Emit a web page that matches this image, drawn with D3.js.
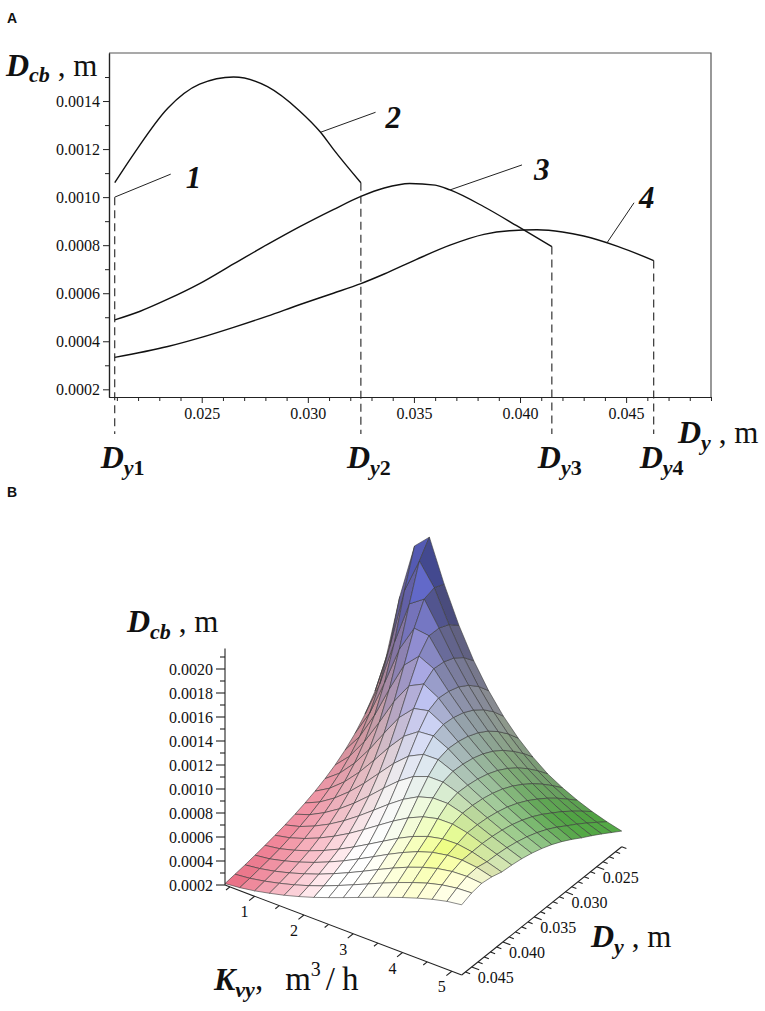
<!DOCTYPE html>
<html>
<head>
<meta charset="utf-8">
<script src="https://cdn.jsdelivr.net/npm/d3@7"></script>
<style>
  body { margin: 0; background: #fff; }
  svg { display: block; }
  text { font-family: "Liberation Serif", "Times New Roman", serif; fill: #111; }
  .tag { font-family: "Liberation Sans", Arial, sans-serif; font-weight: bold; font-size: 14px; }
  .tick-label { font-family: "Liberation Serif", "Times New Roman", serif; font-size: 16px; }
</style>
</head>
<body>
<svg id="chart" width="765" height="1011"></svg>
<script>
// ---------------- panel A data ----------------
var curve2Dy  = [0.0209, 0.0218, 0.0234, 0.0249, 0.0265, 0.0281, 0.0296, 0.0306, 0.0312, 0.0325];
var curve2Dcb = [0.00106, 0.00118, 0.00137, 0.00147, 0.00150, 0.00146, 0.00136, 0.00127, 0.00120, 0.00106];

var curve3Dy  = [0.0209, 0.0221, 0.0234, 0.0249, 0.0265, 0.0281, 0.0296, 0.0312, 0.0325, 0.0336, 0.0348, 0.0360, 0.0367, 0.0383, 0.0399, 0.0415];
var curve3Dcb = [0.000489, 0.000525, 0.000575, 0.000640, 0.000722, 0.000803, 0.000876, 0.000948, 0.001003, 0.001038, 0.001057, 0.00105, 0.001030, 0.000960, 0.000878, 0.000794];

var curve4Dy  = [0.0209, 0.0234, 0.0249, 0.0265, 0.0281, 0.0296, 0.0312, 0.0325, 0.0336, 0.0351, 0.0367, 0.0383, 0.0395, 0.0408, 0.0420, 0.0430, 0.0446, 0.0463];
var curve4Dcb = [0.000333, 0.000378, 0.000414, 0.000458, 0.000505, 0.000552, 0.000600, 0.000640, 0.000680, 0.000740, 0.000800, 0.000845, 0.000860, 0.000864, 0.000855, 0.000838, 0.000795, 0.000736];

// limits Dy1..Dy4 and the value where each dashed line starts
var dyLimits   = [0.0209, 0.0325, 0.0415, 0.0463];
var dyLimitTop = [0.0010, 0.00106, 0.000794, 0.000736];
var dyLimitSub = ["1", "2", "3", "4"];

// where the numbered leader lines touch the curves
var curveTags   = ["1", "2", "3", "4"];
var curveTagDy  = [0.0209, 0.0306, 0.0367, 0.0441];
var curveTagDcb = [0.00100, 0.00127, 0.001030, 0.00081];

var yMajorA = [0.0002, 0.0004, 0.0006, 0.0008, 0.0010, 0.0012, 0.0014];
var yMinorA = [0.0003, 0.0005, 0.0007, 0.0009, 0.0011, 0.0013, 0.0015];
var xMajorA = [0.025, 0.030, 0.035, 0.040, 0.045];
var xMinorA = [0.021, 0.022, 0.023, 0.024, 0.026, 0.027, 0.028, 0.029, 0.031, 0.032, 0.033, 0.034,
               0.036, 0.037, 0.038, 0.039, 0.041, 0.042, 0.043, 0.044, 0.046, 0.047, 0.048, 0.049];

// ---------------- panel B data ----------------
var kGrid  = [0.4, 0.7, 1.0, 1.3, 1.6, 1.9, 2.2, 2.5, 2.8, 3.1, 3.4, 3.7, 4.0, 4.3, 4.6, 4.9, 5.2];
var dyGrid = [0.0210, 0.0226, 0.0242, 0.0258, 0.0274, 0.0290, 0.0306, 0.0322, 0.0338,
              0.0354, 0.0370, 0.0386, 0.0402, 0.0418, 0.0434, 0.0450, 0.0466];
// one row per Kvy, one column per Dy
var dcbGrid = [
  [0.000987, 0.000813, 0.000688, 0.000594, 0.000522, 0.000464, 0.000418, 0.000380, 0.000349, 0.000322, 0.000300, 0.000280, 0.000263, 0.000248, 0.000234, 0.000223, 0.000212],
  [0.001581, 0.001232, 0.000987, 0.000812, 0.000683, 0.000586, 0.000511, 0.000452, 0.000404, 0.000365, 0.000333, 0.000306, 0.000282, 0.000264, 0.000250, 0.000236, 0.000225],
  [0.002050, 0.001747, 0.001385, 0.001111, 0.000907, 0.000756, 0.000641, 0.000553, 0.000484, 0.000429, 0.000384, 0.000347, 0.000316, 0.000294, 0.000275, 0.000259, 0.000245],
  [0.002170, 0.002038, 0.001748, 0.001438, 0.001173, 0.000964, 0.000803, 0.000680, 0.000584, 0.000508, 0.000447, 0.000398, 0.000358, 0.000331, 0.000308, 0.000288, 0.000272],
  [0.001825, 0.001863, 0.001835, 0.001659, 0.001419, 0.001185, 0.000986, 0.000827, 0.000701, 0.000602, 0.000523, 0.000460, 0.000408, 0.000375, 0.000347, 0.000322, 0.000302],
  [0.001528, 0.001602, 0.001640, 0.001643, 0.001540, 0.001359, 0.001162, 0.000982, 0.000831, 0.000708, 0.000610, 0.000530, 0.000466, 0.000426, 0.000391, 0.000362, 0.000338],
  [0.001281, 0.001374, 0.001437, 0.001472, 0.001482, 0.001421, 0.001284, 0.001119, 0.000960, 0.000821, 0.000704, 0.000609, 0.000531, 0.000482, 0.000442, 0.000407, 0.000378],
  [0.001079, 0.001180, 0.001257, 0.001310, 0.001340, 0.001351, 0.001312, 0.001205, 0.001067, 0.000927, 0.000800, 0.000692, 0.000601, 0.000545, 0.000497, 0.000457, 0.000423],
  [0.000913, 0.001017, 0.001100, 0.001164, 0.001209, 0.001235, 0.001244, 0.001216, 0.001129, 0.001011, 0.000888, 0.000774, 0.000673, 0.000610, 0.000556, 0.000510, 0.000470],
  [0.000777, 0.000879, 0.000965, 0.001036, 0.001089, 0.001126, 0.001148, 0.001156, 0.001132, 0.001058, 0.000956, 0.000847, 0.000744, 0.000677, 0.000617, 0.000564, 0.000518],
  [0.000665, 0.000763, 0.000849, 0.000922, 0.000981, 0.001026, 0.001056, 0.001074, 0.001081, 0.001059, 0.000993, 0.000903, 0.000806, 0.000739, 0.000676, 0.000618, 0.000566],
  [0.000572, 0.000665, 0.000749, 0.000823, 0.000885, 0.000935, 0.000972, 0.000997, 0.001012, 0.001017, 0.000994, 0.000934, 0.000853, 0.000793, 0.000730, 0.000669, 0.000613],
  [0.000503, 0.000588, 0.000667, 0.000738, 0.000799, 0.000852, 0.000894, 0.000925, 0.000946, 0.000958, 0.000960, 0.000936, 0.000880, 0.000834, 0.000776, 0.000716, 0.000658],
  [0.000446, 0.000523, 0.000597, 0.000664, 0.000723, 0.000777, 0.000822, 0.000858, 0.000883, 0.000901, 0.000910, 0.000910, 0.000884, 0.000857, 0.000813, 0.000758, 0.000700],
  [0.000399, 0.000469, 0.000536, 0.000599, 0.000655, 0.000710, 0.000757, 0.000795, 0.000825, 0.000846, 0.000860, 0.000867, 0.000865, 0.000863, 0.000835, 0.000790, 0.000737],
  [0.000361, 0.000423, 0.000484, 0.000542, 0.000595, 0.000650, 0.000698, 0.000738, 0.000770, 0.000795, 0.000813, 0.000824, 0.000829, 0.000849, 0.000841, 0.000810, 0.000767],
  [0.000330, 0.000385, 0.000440, 0.000492, 0.000541, 0.000595, 0.000643, 0.000685, 0.000719, 0.000747, 0.000768, 0.000782, 0.000791, 0.000817, 0.000830, 0.000817, 0.000785]
];

var zMajorB = [0.0002, 0.0004, 0.0006, 0.0008, 0.0010, 0.0012, 0.0014, 0.0016, 0.0018, 0.0020];
var zMinorB = [0.0003, 0.0005, 0.0007, 0.0009, 0.0011, 0.0013, 0.0015, 0.0017, 0.0019, 0.0021];
var kMajorB = [1, 2, 3, 4, 5];
var kMinorB = [0.5, 1.5, 2.5, 3.5, 4.5];
var dyMajorB = [0.025, 0.030, 0.035, 0.040, 0.045];
var dyMinorB = [0.021, 0.022, 0.023, 0.024, 0.026, 0.027, 0.028, 0.029, 0.031, 0.032, 0.033, 0.034,
                0.036, 0.037, 0.038, 0.039, 0.041, 0.042, 0.043, 0.044, 0.046];

var svg = d3.select("#chart");
var serif = "Liberation Serif, Times New Roman, serif";

// text made of pieces: [string, size, bold, italic, dy, dx]
function richText(g, x, y, parts) {
  var t = g.append("text").attr("x", x).attr("y", y).attr("font-family", serif);
  parts.forEach(function(p) {
    t.append("tspan")
      .attr("font-size", p[1])
      .attr("font-weight", p[2] ? "bold" : "normal")
      .attr("font-style", p[3] ? "italic" : "normal")
      .attr("dy", p[4] || 0)
      .attr("dx", p[5] || 0)
      .text(p[0]);
  });
  return t;
}

// =============== panel A ===============
var gA = svg.append("g");
var xA = d3.scaleLinear().domain([0.02063, 0.0490]).range([109, 711]);
var yA = d3.scaleLinear().domain([0.000168, 0.0016]).range([397, 53]);

gA.append("text").attr("class", "tag").attr("x", 7).attr("y", 23).text("A");

// frame (top and right)
gA.append("path")
  .attr("d", "M" + xA.range()[0] + "," + yA.range()[1] + "H" + xA.range()[1] + "V" + yA.range()[0])
  .attr("fill", "none").attr("stroke", "#555").attr("stroke-width", 1.2);

function plainAxis(sel) {
  sel.attr("font-family", serif).attr("font-size", 16);
  sel.select(".domain").attr("stroke", "#222").attr("stroke-width", 1.2);
  sel.selectAll(".tick line").attr("stroke", "#222");
  sel.selectAll(".tick text").attr("class", "tick-label").attr("font-family", serif).attr("fill", "#222");
}

gA.append("g").attr("transform", "translate(0," + yA.range()[0] + ")")
  .call(d3.axisBottom(xA).tickValues(xMinorA).tickSize(4).tickSizeOuter(0).tickFormat(""))
  .call(plainAxis);
gA.append("g").attr("transform", "translate(0," + yA.range()[0] + ")")
  .call(d3.axisBottom(xA).tickValues(xMajorA).tickSize(6).tickSizeOuter(0).tickPadding(5).tickFormat(d3.format(".3f")))
  .call(plainAxis);
gA.append("g").attr("transform", "translate(" + xA.range()[0] + ",0)")
  .call(d3.axisLeft(yA).tickValues(yMinorA).tickSize(4).tickSizeOuter(0).tickFormat(""))
  .call(plainAxis);
gA.append("g").attr("transform", "translate(" + xA.range()[0] + ",0)")
  .call(d3.axisLeft(yA).tickValues(yMajorA).tickSize(6).tickSizeOuter(0).tickPadding(3).tickFormat(d3.format(".4f")))
  .call(plainAxis);

var lineA = d3.line()
  .x(function(d) { return xA(d[0]); })
  .y(function(d) { return yA(d[1]); })
  .curve(d3.curveMonotoneX);

[[curve2Dy, curve2Dcb], [curve3Dy, curve3Dcb], [curve4Dy, curve4Dcb]].forEach(function(c) {
  gA.append("path")
    .datum(d3.zip(c[0], c[1]))
    .attr("d", lineA)
    .attr("fill", "none")
    .attr("stroke", "#111")
    .attr("stroke-width", 1.4);
});

// dashed limit lines and their Dy labels
dyLimits.forEach(function(dy, i) {
  var x = xA(dy);
  gA.append("line")
    .attr("x1", x).attr("x2", x)
    .attr("y1", yA(dyLimitTop[i])).attr("y2", 434)
    .attr("stroke", "#222").attr("stroke-width", 1.1)
    .attr("stroke-dasharray", "8,5");
  richText(gA, x - 14, 468, [["D", 32, true, true], ["y", 22, true, true, 7], [dyLimitSub[i], 22, true, false]]);
});

// numbered leaders
var tagLeader = [[56, -23], [55, -20], [72, -25], [27, -40]];
var tagText   = [[71, -9], [65, -4], [84, -10], [32, -35]];
curveTags.forEach(function(tag, i) {
  var x0 = xA(curveTagDy[i]), y0 = yA(curveTagDcb[i]);
  gA.append("line")
    .attr("x1", x0).attr("y1", y0)
    .attr("x2", x0 + tagLeader[i][0]).attr("y2", y0 + tagLeader[i][1])
    .attr("stroke", "#222").attr("stroke-width", 1);
  richText(gA, x0 + tagText[i][0], y0 + tagText[i][1], [[tag, 31, true, true]]);
});

richText(gA, 6, 76, [["D", 32, true, true], ["cb", 22, true, true, 6], [" , m", 31, false, false, -6]]);
richText(gA, 678, 443, [["D", 32, true, true], ["y", 22, true, true, 7], [" , m", 31, false, false, -7]]);

// =============== panel B ===============
var gB = svg.append("g");
gB.append("text").attr("class", "tag").attr("x", 7).attr("y", 497).text("B");

var kn = d3.scaleLinear().domain(d3.extent(kGrid)).range([0, 1]);
var dn = d3.scaleLinear().domain([d3.max(dyGrid), d3.min(dyGrid)]).range([0, 1]);
var zPx = d3.scaleLinear().domain([0.0002, 0.0022]).range([0, 240]);
var zTop = d3.max(dcbGrid, function(r) { return d3.max(r); });

var corner = [225, 885], uAx = [236.7, 90], vAx = [160, -128.3];

function proj(k, dy, z) {
  var a = kn(k), b = dn(dy);
  return [corner[0] + uAx[0] * a + vAx[0] * b, corner[1] + uAx[1] * a + vAx[1] * b - zPx(z)];
}

// orthographic camera recovered from the two floor axes
var sinE = Math.sqrt((uAx[1] / uAx[0]) * (-vAx[1] / vAx[0]));
var cosE = Math.sqrt(1 - sinE * sinE);
var angA = Math.atan((uAx[1] / uAx[0]) / sinE);
var cosA = Math.cos(angA), sinA = Math.sin(angA);
var lenK = uAx[0] / cosA, lenD = vAx[0] / sinA, lenZ = 1 / cosE;
var camF = [-sinA, cosA, 0];
var camR = [cosA, sinA, 0];
var camU = [sinE * camF[0], sinE * camF[1], cosE];
var camV = [cosE * camF[0], cosE * camF[1], -sinE]; // pointing into the scene

function dot(a, b) { return a[0] * b[0] + a[1] * b[1] + a[2] * b[2]; }
function sub(a, b) { return [a[0] - b[0], a[1] - b[1], a[2] - b[2]]; }
function cross(a, b) { return [a[1] * b[2] - a[2] * b[1], a[2] * b[0] - a[0] * b[2], a[0] * b[1] - a[1] * b[0]]; }
function unit(a) { var l = Math.sqrt(dot(a, a)); return [a[0] / l, a[1] / l, a[2] / l]; }
function clamp(v) { return Math.max(0, Math.min(1, v)); }
function mix(a, b, t) { return [a[0] + (b[0] - a[0]) * t, a[1] + (b[1] - a[1]) * t, a[2] + (b[2] - a[2]) * t]; }
function world(k, dy, z) { return [kn(k) * lenK, dn(dy) * lenD, zPx(z) * lenZ]; }

var lightDir = unit([-0.3, 0.6, 0.75]);

function surfaceColor(s, t, h, nv) {
  var c = [1, 1, 1];
  var wRed = clamp(1 - s / 0.42) * clamp(1 - t * 0.5);
  var wYellow = clamp(1 - Math.abs(s - 0.8) / 0.3) * clamp(1 - Math.abs(t - 0.22) / 0.32);
  var wGreen = clamp((s - 0.45) / 0.45) * clamp((t - 0.2) / 0.55);
  var wBlue = clamp((h - 0.35) / 0.5);
  c = mix(c, [0.88, 0.32, 0.42], wRed * 0.9);
  c = mix(c, [0.88, 0.94, 0.38], wYellow * 0.85);
  c = mix(c, [0.3, 0.78, 0.22], wGreen * 0.85);
  c = mix(c, [0.32, 0.37, 0.82], wBlue * 0.9);
  var lit = 0.45 + 0.6 * Math.max(0, dot(nv, lightDir));
  return d3.rgb(255 * clamp(c[0] * lit), 255 * clamp(c[1] * lit), 255 * clamp(c[2] * lit)).toString();
}

var cells = [];
for (var i = 0; i < kGrid.length - 1; i++) {
  for (var j = 0; j < dyGrid.length - 1; j++) {
    var ids = [[i, j], [i + 1, j], [i + 1, j + 1], [i, j + 1]];
    var w = ids.map(function(p) { return world(kGrid[p[0]], dyGrid[p[1]], dcbGrid[p[0]][p[1]]); });
    var pts = ids.map(function(p) { return proj(kGrid[p[0]], dyGrid[p[1]], dcbGrid[p[0]][p[1]]); });
    var n = unit(cross(sub(w[2], w[0]), sub(w[3], w[1])));
    if (n[2] < 0) n = [-n[0], -n[1], -n[2]];
    var cen = [d3.mean(w, function(q) { return q[0]; }), d3.mean(w, function(q) { return q[1]; }), d3.mean(w, function(q) { return q[2]; })];
    var nv = [dot(n, camR), dot(n, camU), -dot(n, camV)];
    cells.push({
      pts: pts,
      depth: dot(cen, camV),
      fill: surfaceColor(cen[0] / lenK, cen[1] / lenD, cen[2] / lenZ / 240, nv)
    });
  }
}
cells.sort(function(a, b) { return b.depth - a.depth; });

gB.append("g").selectAll("path")
  .data(cells)
  .enter()
  .append("path")
  .attr("d", function(c) { return "M" + c.pts.join("L") + "Z"; })
  .attr("fill", function(c) { return c.fill; })
  .attr("stroke", "#3a3a3a")
  .attr("stroke-width", 0.6)
  .attr("stroke-linejoin", "round");

// ---- axes of the 3-D box ----
var axB = gB.append("g").attr("stroke", "#222").attr("stroke-width", 1.1);
var kMin = d3.min(kGrid), kMax = d3.max(kGrid), dyMin = d3.min(dyGrid), dyMax = d3.max(dyGrid);
var zBase = zPx.domain()[0];

function seg(a, b) {
  axB.append("line").attr("x1", a[0]).attr("y1", a[1]).attr("x2", b[0]).attr("y2", b[1]);
}

// vertical Dcb axis
seg(proj(kMin, dyMax, zBase), proj(kMin, dyMax, zTop));
zMajorB.forEach(function(z) {
  var p = proj(kMin, dyMax, z);
  seg(p, [p[0] - 9, p[1]]);
  gB.append("text").attr("class", "tick-label").attr("x", p[0] - 12).attr("y", p[1]).attr("dy", "0.35em")
    .attr("text-anchor", "end").text(d3.format(".4f")(z));
});
zMinorB.filter(function(z) { return z <= zTop; }).forEach(function(z) {
  var p = proj(kMin, dyMax, z);
  seg(p, [p[0] - 5, p[1]]);
});

// Kvy axis along the front edge
seg(proj(kMin, dyMax, zBase), proj(kMax, dyMax, zBase));
var vLen = Math.sqrt(vAx[0] * vAx[0] + vAx[1] * vAx[1]);
var vOut = [-vAx[0] / vLen, -vAx[1] / vLen];
kMajorB.forEach(function(k) {
  var p = proj(k, dyMax, zBase);
  seg(p, [p[0] + vOut[0] * 7, p[1] + vOut[1] * 7]);
  gB.append("text").attr("class", "tick-label").attr("x", p[0] - 10).attr("y", p[1] + 21)
    .attr("text-anchor", "middle").text(k);
});
kMinorB.forEach(function(k) {
  var p = proj(k, dyMax, zBase);
  seg(p, [p[0] + vOut[0] * 5, p[1] + vOut[1] * 5]);
});

// Dy axis along the right edge
seg(proj(kMax, dyMax, zBase), proj(kMax, dyMin, zBase));
var uLen = Math.sqrt(uAx[0] * uAx[0] + uAx[1] * uAx[1]);
var uOut = [uAx[0] / uLen, uAx[1] / uLen];
dyMajorB.forEach(function(dy) {
  var p = proj(kMax, dy, zBase);
  seg(p, [p[0] + uOut[0] * 8, p[1] + uOut[1] * 8]);
  gB.append("text").attr("class", "tick-label").attr("x", p[0] + 6).attr("y", p[1] + 16)
    .text(d3.format(".3f")(dy));
});
dyMinorB.forEach(function(dy) {
  var p = proj(kMax, dy, zBase);
  seg(p, [p[0] + uOut[0] * 5, p[1] + uOut[1] * 5]);
});

// axis titles
richText(gB, 127, 632, [["D", 32, true, true], ["cb", 22, true, true, 7], [" , m", 31, false, false, -7]]);
richText(gB, 591, 947, [["D", 32, true, true], ["y", 22, true, true, 7], [" , m", 31, false, false, -7]]);
richText(gB, 214, 990, [["K", 32, true, true], ["vy", 22, true, true, 7], [",", 33, false, false, -7],
                        ["m", 33, false, false, 0, 22], ["3", 20, false, false, -14], ["/", 33, false, false, 14, 5],
                        ["h", 33, false, false, 0, 7]]);
</script>
</body>
</html>
